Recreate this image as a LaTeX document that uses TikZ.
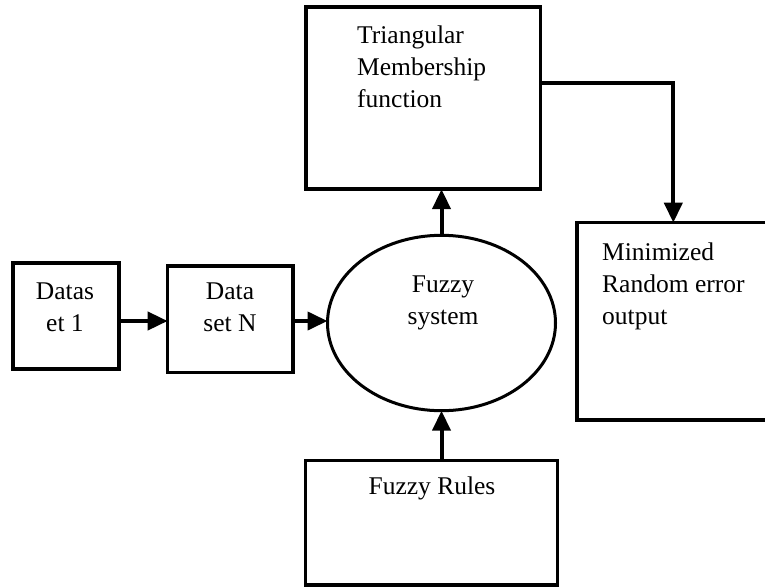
\documentclass[tikz,border=0pt]{standalone}
\usepackage{fontspec}
\setmainfont{Liberation Serif}
\usetikzlibrary{arrows.meta,shapes.geometric}
\begin{document}
\begin{tikzpicture}[x=1pt,y=-1pt,
  box/.style={draw, line width=3.5pt, inner sep=0pt, outer sep=0pt},
  lbl/.style={inner sep=0pt, font=\fontsize{25.5}{32}\selectfont},
  arr/.style={line width=4pt, -{Triangle[length=20pt,width=18pt]}},
  link/.style={line width=4pt}]
\clip (0,0) rectangle (765,587);
\fill[white] (0,0) rectangle (765,587);
% boxes
\node[box, minimum width=106pt, minimum height=106pt] (d1) at (66,316) {};
\node[box, minimum width=125.3pt, minimum height=106.7pt] (dN) at (230.3,319.3) {};
\node[box, minimum width=234.7pt, minimum height=182.3pt] (tm) at (423.3,98) {};
\node[box, minimum width=192.6pt, minimum height=197.3pt] (mo) at (673.3,321.3) {};
\node[box, minimum width=252.4pt, minimum height=124.7pt] (fr) at (431.5,522.7) {};
\node[draw, ellipse, line width=3pt, inner sep=0pt, outer sep=0pt,
      minimum width=228pt, minimum height=175.4pt] (fs) at (441.5,323) {};
% texts
\node[lbl, align=center] (t1) at (65,307.5) {Datas\\et 1};
\node[lbl, align=center] (tN) at (230,307.5) {Data\\set N};
\node[lbl, align=center] (tfs) at (443,303) {Fuzzy\\system};
\node[lbl, align=left, anchor=west] (ttm) at (357,67) {Triangular\\Membership\\function};
\node[lbl, align=left, anchor=west] (tmo) at (602,286) {Minimized\\Random error\\output};
\node[lbl] (tfr) at (432,488) {Fuzzy Rules};
% connectors
\draw[arr] (d1.east |- 0,321) -- (dN.west |- 0,321);
\draw[arr] (dN.east |- 0,321) -- (fs.west |- 0,321);
\draw[arr] (fs.north) -- (fs.north |- tm.south);
\draw[arr] (fs.south |- fr.north) -- (fs.south);
\draw[arr] (tm.east |- 0,83.3) -| (mo.north);
\end{tikzpicture}
\end{document}
